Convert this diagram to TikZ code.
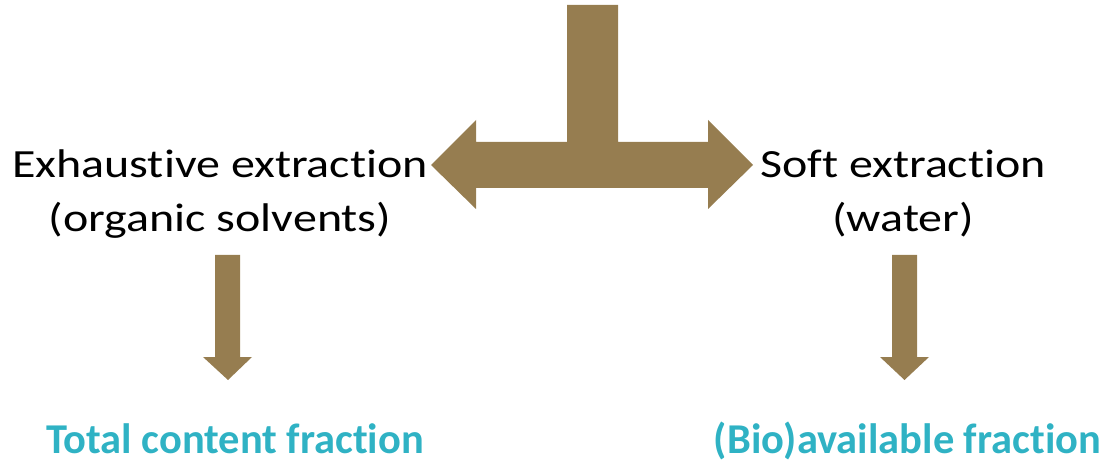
\documentclass[tikz,border=0pt]{standalone}
\usepackage{graphicx}
\usepackage{fontspec}
\setmainfont[Ligatures=NoCommon]{Carlito}
\definecolor{brownarrow}{RGB}{150,125,80}
\definecolor{tealtext}{RGB}{47,178,196}
\newcommand{\wide}[1]{\scalebox{1.2}[1]{#1}}
\begin{document}
\begin{tikzpicture}[x=1pt,y=-1pt,
  lbl/.style={align=center, font=\fontsize{40}{54}\selectfont, inner sep=0pt, text=black, anchor=base},
  res/.style={font=\fontsize{42.5}{50}\selectfont\bfseries, inner sep=0pt, text=tealtext, anchor=base},
  arrowfill/.style={fill=brownarrow, draw=none}]
\useasboundingbox (0,0) rectangle (1109,465);
% T-shaped double arrow
\fill[arrowfill] (567,5) -- (618,5) -- (618,142) -- (708,142) -- (708,120) -- (753,165)
  -- (708,209) -- (708,188) -- (476,188) -- (476,209) -- (431,165) -- (476,120)
  -- (476,142) -- (567,142) -- cycle;
% texts
\node[lbl] (exh) at (220,232) {\wide{Exhaustive extraction}\\\wide{(organic solvents)}};
\node[lbl] (soft) at (903,232) {\wide{Soft extraction}\\\wide{(water)}};
\node[res] (tot) at (235,453) {Total content fraction};
\node[res] (bio) at (907.5,453) {(Bio)available fraction};
% down arrows
\fill[arrowfill] (215,255) -- (240,255) -- (240,357) -- (252,357) -- (228,380) -- (203,357) -- (215,357) -- cycle;
\fill[arrowfill] (892,255) -- (917,255) -- (917,357) -- (929,357) -- (904.5,380) -- (880,357) -- (892,357) -- cycle;
\end{tikzpicture}
\end{document}
